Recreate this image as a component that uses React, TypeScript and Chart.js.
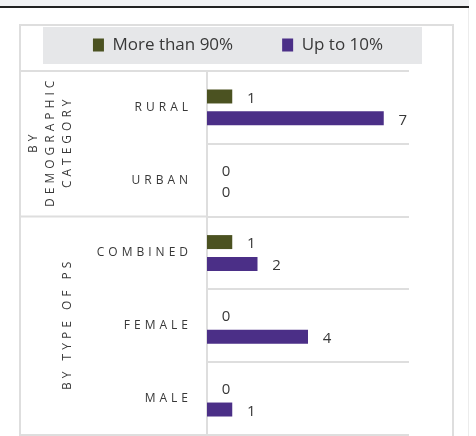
import { useEffect, useRef } from 'react';
import { Chart, registerables } from 'chart.js';

Chart.register(...registerables);

// Chart data
const categories = ['RURAL', 'URBAN', 'COMBINED', 'FEMALE', 'MALE'];
const moreThan90 = [1, 0, 1, 0, 0];
const upTo10 = [7, 0, 2, 4, 1];
const seriesNames = ['More than 90%', 'Up to 10%'];
const groupLabels = [['BY', 'DEMOGRAPHIC', 'CATEGORY'], ['BY TYPE OF PS']];
const groupRanges = [[0, 1], [2, 4]];

const GREEN = '#4b5221';
const PURPLE = '#4b2f87';
const LINE = '#dedede';
const TEXT = '#383838';

// page frame, legend band and the group separators
const framePlugin = {
  id: 'frame',
  beforeDraw(chart: any) {
    const ctx = chart.ctx;
    ctx.letterSpacing = '0px';
    ctx.save();
    ctx.fillStyle = '#f1f2f4';
    ctx.fillRect(0, 0, 469, 6);
    ctx.fillStyle = '#222';
    ctx.fillRect(0, 6, 469, 2);
    ctx.fillStyle = '#ececec';
    ctx.fillRect(468, 8, 1, 428);
    ctx.strokeStyle = LINE;
    ctx.lineWidth = 2;
    ctx.strokeRect(20, 25, 433, 430);
    ctx.fillStyle = '#e6e7e9';
    ctx.fillRect(43, 27, 379, 37);

    // group boundaries extend into the label columns
    const { top, bottom, left } = chart.chartArea;
    const y = chart.scales.y;
    const edges = [top, bottom];
    for (let g = 1; g < groupRanges.length; g++) {
      const a = y.getPixelForValue(groupRanges[g - 1][1]);
      const b = y.getPixelForValue(groupRanges[g][0]);
      edges.push((a + b) / 2);
    }
    ctx.beginPath();
    edges.forEach((e) => {
      ctx.moveTo(20, e);
      ctx.lineTo(left, e);
    });
    ctx.stroke();
    ctx.restore();
  },
  afterDatasetsDraw(chart: any) {
    const ctx = chart.ctx;
    ctx.save();
    ctx.font = '15px "Open Sans"';
    ctx.fillStyle = TEXT;
    ctx.textAlign = 'center';
    ctx.textBaseline = 'middle';
    chart.data.datasets.forEach((ds: any, di: number) => {
      const meta = chart.getDatasetMeta(di);
      meta.data.forEach((bar: any, i: number) => {
        ctx.fillText(String(ds.data[i]), bar.x + 19, bar.y + 2);
      });
    });
    ctx.restore();
    // tick labels are drawn after this (ticks.z = 1) and are letter spaced
    ctx.letterSpacing = '4px';
  },
  afterDraw(chart: any) {
    const ctx = chart.ctx;
    const y = chart.scales.y;
    ctx.save();
    ctx.letterSpacing = '4px';
    ctx.font = '12px "Open Sans"';
    ctx.fillStyle = TEXT;
    ctx.textAlign = 'center';
    ctx.textBaseline = 'middle';
    groupRanges.forEach(([from, to], g) => {
      const half = (y.getPixelForValue(1) - y.getPixelForValue(0)) / 2;
      const cy = (y.getPixelForValue(from) - half + y.getPixelForValue(to) + half) / 2;
      const lines = groupLabels[g];
      lines.forEach((line, li) => {
        const cx = 68 - (lines.length - 1 - li) * 17;
        ctx.save();
        ctx.translate(cx, cy);
        ctx.rotate(-Math.PI / 2);
        ctx.fillText(line, 2, 0);
        ctx.restore();
      });
    });
    ctx.restore();
    ctx.letterSpacing = '0px';
  },
};

export default function App() {
  const canvasRef = useRef<HTMLCanvasElement>(null);
  const chartRef = useRef<Chart | null>(null);

  useEffect(() => {
    if (!canvasRef.current) return;
    if (chartRef.current) chartRef.current.destroy();

    chartRef.current = new Chart(canvasRef.current, {
      type: 'bar',
      data: {
        labels: categories,
        datasets: [
          {
            label: seriesNames[0],
            data: moreThan90,
            backgroundColor: GREEN,
            borderWidth: 0,
            categoryPercentage: 0.6,
            barPercentage: 0.64,
          },
          {
            label: seriesNames[1],
            data: upTo10,
            backgroundColor: PURPLE,
            borderWidth: 0,
            categoryPercentage: 0.6,
            barPercentage: 0.64,
          },
        ],
      },
      options: {
        indexAxis: 'y',
        responsive: true,
        maintainAspectRatio: false,
        animation: false,
        layout: { padding: { top: -12.5, bottom: 1, left: 0, right: 0 } },
        font: { family: '"Open Sans", sans-serif' },
        scales: {
          x: {
            position: 'top',
            min: 0,
            max: 8,
            ticks: { display: false },
            grid: { display: false },
            border: { display: false },
            afterFit: (s: any) => {
              s.height = 7.5;
            },
          },
          y: {
            ticks: {
              color: TEXT,
              padding: 15,
              z: 1,
              font: { size: 12, family: '"Open Sans"' },
            },
            grid: { color: LINE, lineWidth: 2, drawTicks: false },
            border: { color: LINE, width: 2 },
            afterFit: (s: any) => {
              s.width = 207;
              s.paddingTop = 0;
              s.paddingBottom = 0;
            },
          },
          y2: {
            type: 'category',
            position: 'right',
            ticks: { display: false },
            grid: { display: false },
            border: { display: false },
            afterFit: (s: any) => {
              s.width = 67;
            },
          },
        },
        plugins: {
          legend: {
            position: 'top',
            labels: {
              boxWidth: 11,
              boxHeight: 13,
              padding: 49,
              color: TEXT,
              font: { size: 17, family: '"Open Sans"' },
            },
          },
          tooltip: { enabled: false },
        },
      },
      plugins: [framePlugin],
    });

    return () => {
      if (chartRef.current) {
        chartRef.current.destroy();
        chartRef.current = null;
      }
    };
  }, []);

  return (
    <div style={{ position: 'fixed', left: 0, top: 0, width: 476, height: 436, background: '#fff' }}>
      <canvas ref={canvasRef}></canvas>
    </div>
  );
}
